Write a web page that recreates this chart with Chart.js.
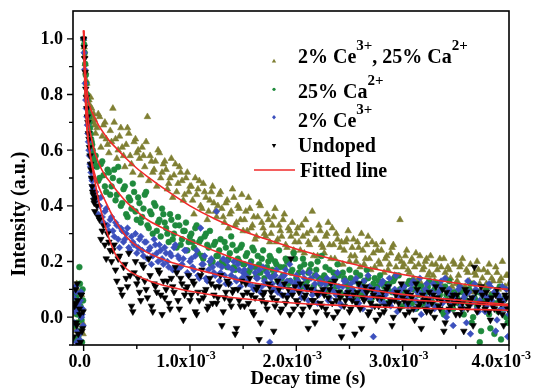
<!DOCTYPE html>
<html><head><meta charset="utf-8">
<script src="https://cdn.jsdelivr.net/npm/chart.js@4.4.0/dist/chart.umd.min.js"></script>
<style>html,body{margin:0;padding:0;background:#fff}#wrap{width:534px;height:389px}</style>
</head><body><div id="wrap"><canvas id="c" width="534" height="389"></canvas></div>
<script>
// ---- time channels (ms), set A ----
const timeMs = [
-0.08,-0.07,-0.06,-0.05,-0.04,-0.03,-0.02,-0.01,
0,0.01,0.02,0.03,0.04,0.05,0.06,0.07,0.08,0.09,0.1,
0.125,0.15,0.175,0.2,0.225,0.25,
0.275,0.3,0.325,0.35,0.375,0.4,0.425,0.45,0.475,0.5,
0.525,0.55,0.575,0.6,0.625,0.65,0.675,0.7,0.725,0.75,
0.775,0.8,0.825,0.85,0.875,0.9,0.925,0.95,0.975,1.0,
1.025,1.05,1.075,1.1,1.125,1.15,1.175,1.2,1.225,1.25,
1.275,1.3,1.325,1.35,1.375,1.4,1.425,1.45,1.475,1.5,
1.525,1.55,1.575,1.6,1.625,1.65,1.675,1.7,1.725,1.75,
1.775,1.8,1.825,1.85,1.875,1.9,1.925,1.95,1.975,2.0,
2.025,2.05,2.075,2.1,2.125,2.15,2.175,2.2,2.225,2.25,
2.275,2.3,2.325,2.35,2.375,2.4,2.425,2.45,2.475,2.5,
2.525,2.55,2.575,2.6,2.625,2.65,2.675,2.7,2.725,2.75,
2.775,2.8,2.825,2.85,2.875,2.9,2.925,2.95,2.975,3.0,
3.025,3.05,3.075,3.1,3.125,3.15,3.175,3.2,3.225,3.25,
3.275,3.3,3.325,3.35,3.375,3.4,3.425,3.45,3.475,3.5,
3.525,3.55,3.575,3.6,3.625,3.65,3.675,3.7,3.725,3.75,
3.775,3.8,3.825,3.85,3.875,3.9,3.925,3.95,3.975,4.0];

// ---- time channels (ms), set B (interleaved) ----
const timeMsB = [
-0.095,-0.085,-0.075,-0.065,-0.055,-0.045,-0.035,-0.025,-0.015,-0.005,
0.005,0.015,0.025,0.035,0.045,0.055,0.065,0.075,0.085,0.095,0.105,
0.1125,0.1375,0.1625,0.1875,0.2125,0.2375,
0.2625,0.2875,0.3125,0.3375,0.3625,0.3875,0.4125,0.4375,0.4625,0.4875,
0.5125,0.5375,0.5625,0.5875,0.6125,0.6375,0.6625,0.6875,0.7125,0.7375,
0.7625,0.7875,0.8125,0.8375,0.8625,0.8875,0.9125,0.9375,0.9625,0.9875,
1.0125,1.0375,1.0625,1.0875,1.1125,1.1375,1.1625,1.1875,1.2125,1.2375,
1.2625,1.2875,1.3125,1.3375,1.3625,1.3875,1.4125,1.4375,1.4625,1.4875,
1.5125,1.5375,1.5625,1.5875,1.6125,1.6375,1.6625,1.6875,1.7125,1.7375,
1.7625,1.7875,1.8125,1.8375,1.8625,1.8875,1.9125,1.9375,1.9625,1.9875,
2.0125,2.0375,2.0625,2.0875,2.1125,2.1375,2.1625,2.1875,2.2125,2.2375,
2.2625,2.2875,2.3125,2.3375,2.3625,2.3875,2.4125,2.4375,2.4625,2.4875,
2.5125,2.5375,2.5625,2.5875,2.6125,2.6375,2.6625,2.6875,2.7125,2.7375,
2.7625,2.7875,2.8125,2.8375,2.8625,2.8875,2.9125,2.9375,2.9625,2.9875,
3.0125,3.0375,3.0625,3.0875,3.1125,3.1375,3.1625,3.1875,3.2125,3.2375,
3.2625,3.2875,3.3125,3.3375,3.3625,3.3875,3.4125,3.4375,3.4625,3.4875,
3.5125,3.5375,3.5625,3.5875,3.6125,3.6375,3.6625,3.6875,3.7125,3.7375,
3.7625,3.7875,3.8125,3.8375,3.8625,3.8875,3.9125,3.9375,3.9625,3.9875];

// ---- measured intensities: Undoped ----
const undoped = [
0.05,-0.02,0.12,-0.06,0.03,-0.09,0.08,-0.04,
1.0,0.93,0.82,0.75,0.70,0.64,0.58,0.53,0.47,0.44,0.41,
0.40,0.35,0.31,0.26,0.30,0.24,
0.24,0.17,0.21,0.10,0.18,0.14,0.23,0.04,0.16,0.12,
0.09,0.19,0.13,0.07,0.15,0.02,0.11,0.17,0.08,0.13,
0.10,0.05,0.14,0.09,0.16,0.03,0.12,0.08,0.11,0.06,
0.13,0.02,0.09,0.15,0.07,0.10,0.04,0.12,0.08,0.05,
0.11,-0.03,0.07,0.13,0.06,0.09,-0.06,0.10,0.04,0.08,
0.12,0.05,0.08,0.01,0.10,-0.08,0.06,0.09,0.03,0.11,
0.07,0.04,0.13,0.02,0.08,0.05,0.10,0.21,0.03,0.06,
0.09,0.01,0.07,0.11,0.04,0.06,-0.02,0.08,0.05,0.10,
0.03,0.07,0.12,0.00,0.06,0.09,-0.07,0.04,0.08,0.02,
0.06,-0.06,0.09,0.03,0.07,0.11,0.01,0.05,0.08,-0.01,
0.04,0.07,0.02,0.10,0.05,-0.03,0.06,0.09,0.03,0.07,
0.01,0.05,0.08,0.03,0.12,0.04,-0.04,0.06,0.02,0.09,
0.05,0.00,0.07,0.03,0.10,-0.02,0.06,0.04,0.08,0.01,
0.06,0.03,-0.05,0.09,0.04,0.07,0.18,0.02,0.05,0.08,
0.03,0.06,-0.01,0.04,0.08,0.02,0.05,-0.03,0.07,0.04];
const undopedB = [
-0.07,0.04,0.10,-0.03,0.06,-0.10,0.01,0.08,-0.05,0.02,
0.97,0.88,0.79,0.72,0.66,0.61,0.55,0.50,0.45,0.42,0.38,
0.43,0.36,0.28,0.33,0.21,0.27,
0.20,0.26,0.13,0.22,0.08,0.19,0.11,0.15,0.02,0.20,
0.14,0.06,0.18,0.10,0.21,0.04,0.12,0.09,0.16,0.01,
0.07,0.13,0.03,0.11,0.18,0.06,0.14,-0.01,0.10,0.15,
0.08,0.12,0.01,0.06,0.17,0.09,0.03,0.14,0.05,0.11,
0.07,0.15,0.02,0.09,0.12,0.04,0.10,-0.04,0.06,0.13,
0.04,0.09,0.14,0.02,0.07,0.11,-0.02,0.08,0.05,0.12,
0.09,-0.05,0.06,0.10,0.03,0.12,0.07,0.01,0.08,0.11,
0.05,0.12,0.03,0.08,-0.04,0.10,0.06,0.02,0.09,0.04,
0.08,0.01,0.10,0.05,0.13,0.02,0.07,-0.03,0.06,0.09,
0.03,0.08,0.05,0.12,-0.04,0.06,0.09,0.02,0.10,0.04,
0.07,0.01,0.09,0.04,0.11,0.06,0.00,0.08,0.05,0.12,
0.06,0.09,0.02,0.07,-0.01,0.10,0.05,0.08,0.03,0.06,
0.02,0.08,0.11,0.04,0.06,-0.05,0.09,0.03,0.07,0.05,
0.08,0.01,0.05,0.10,0.03,0.06,-0.03,0.09,0.04,0.11,
0.05,0.09,0.02,0.07,0.03,0.10,0.06,0.01,0.08,0.03];

// ---- 2% Ce3+ ----
const ce2 = [
0.02,0.09,-0.05,0.04,-0.08,0.06,0.00,0.03,
1.0,0.89,0.78,0.72,0.66,0.60,0.55,0.52,0.49,0.46,0.44,
0.42,0.40,0.36,0.38,0.33,0.35,
0.31,0.34,0.28,0.32,0.27,0.30,0.25,0.29,0.26,0.23,
0.28,0.24,0.27,0.21,0.25,0.22,0.26,0.20,0.24,0.19,
0.23,0.18,0.22,0.25,0.17,0.21,0.19,0.24,0.16,0.20,
0.18,0.22,0.15,0.32,0.19,0.14,0.17,0.21,0.16,0.38,
0.13,0.18,0.15,0.20,0.12,0.17,0.14,0.19,0.11,0.16,
0.15,0.12,0.18,0.10,0.14,0.17,0.11,0.13,0.16,-0.09,
0.12,0.15,0.09,0.14,0.11,0.17,0.08,0.13,0.10,0.15,
0.11,0.07,0.14,0.10,0.16,0.08,0.12,0.05,0.13,0.09,
0.12,0.06,0.10,0.14,0.08,0.11,0.04,0.13,0.09,0.07,
0.10,0.13,0.06,0.11,0.03,0.09,0.15,0.07,-0.07,0.10,
0.08,0.12,0.05,0.09,0.14,0.06,0.10,0.02,0.08,0.11,
0.07,0.04,0.10,0.13,0.06,0.09,0.01,0.08,0.12,0.05,
0.09,0.03,0.07,0.11,0.05,0.14,0.02,0.08,-0.03,0.06,
0.10,0.04,0.07,-0.02,0.09,0.05,0.12,0.03,0.06,0.08,
0.02,0.07,0.11,0.04,-0.05,0.08,0.03,0.06,0.10,0.01];
const ce2B = [
0.07,-0.02,0.11,-0.09,0.03,0.05,-0.06,0.09,0.01,-0.03,
0.95,0.84,0.75,0.69,0.63,0.58,0.54,0.50,0.47,0.45,0.43,
0.45,0.37,0.43,0.34,0.39,0.31,
0.36,0.29,0.33,0.25,0.31,0.28,0.32,0.24,0.27,0.30,
0.25,0.29,0.22,0.27,0.24,0.19,0.28,0.23,0.26,0.21,
0.25,0.20,0.23,0.17,0.26,0.22,0.18,0.21,0.24,0.15,
0.21,0.17,0.24,0.14,0.19,0.22,0.13,0.20,0.18,0.15,
0.19,0.16,0.21,0.12,0.18,0.15,0.20,0.13,0.17,0.14,
0.17,0.13,0.19,0.11,0.16,0.14,0.09,0.18,0.12,0.15,
0.14,0.10,0.17,0.12,0.08,0.15,0.13,0.19,0.09,0.12,
0.13,0.09,0.16,0.11,0.06,0.14,0.10,0.15,0.08,0.12,
0.10,0.14,0.07,0.12,0.09,0.16,0.05,0.11,0.13,0.08,
0.12,0.08,0.14,0.05,0.10,0.13,0.07,0.11,0.04,0.09,
0.10,0.06,0.13,0.08,0.11,0.04,0.09,0.15,0.07,0.10,
0.11,0.05,0.08,0.12,0.03,0.09,0.14,0.06,0.10,0.04,
0.07,0.12,0.04,0.09,0.13,0.06,0.00,0.10,0.05,0.08,
0.06,0.11,0.03,0.08,0.13,-0.06,0.07,0.10,0.02,0.09,
0.08,0.04,0.12,0.06,0.09,-0.01,0.07,0.11,0.03,-0.07];

// ---- 25% Ca2+ ----
const ca25 = [
-0.03,0.07,0.01,-0.07,0.18,0.04,-0.01,0.10,
1.0,0.95,0.87,0.80,0.75,0.72,0.68,0.64,0.62,0.58,0.56,
0.54,0.50,0.56,0.47,0.53,0.44,
0.50,0.42,0.54,0.40,0.46,0.37,0.43,0.39,0.45,0.35,
0.41,0.36,0.44,0.33,0.38,0.30,0.40,0.34,0.29,0.37,
0.32,0.27,0.35,0.30,0.25,0.33,0.28,0.31,0.24,0.29,
0.27,0.32,0.23,0.28,0.21,0.30,0.25,0.19,0.26,0.22,
0.24,0.20,0.27,0.18,0.23,0.26,0.17,0.21,0.25,0.19,
0.22,0.16,0.20,0.24,0.15,0.19,0.21,0.14,0.18,0.22,
0.17,0.20,0.13,0.18,0.15,0.21,0.12,0.16,0.23,0.14,
0.16,0.11,0.19,0.13,0.17,0.10,0.15,0.20,0.12,0.14,
0.18,0.09,0.13,0.16,0.11,0.15,0.08,0.14,0.12,0.17,
0.10,0.13,0.07,0.15,0.11,0.09,0.14,0.06,0.12,0.10,
0.13,0.08,0.11,0.05,0.12,0.09,0.14,0.07,0.10,0.04,
0.09,0.12,0.06,0.10,0.03,0.08,0.11,0.05,0.09,0.13,
0.07,0.10,0.04,0.08,0.02,0.11,0.06,0.09,0.03,0.07,
0.05,0.09,0.01,0.06,0.10,-0.02,0.07,0.04,-0.09,0.08,
0.03,0.07,-0.04,0.05,0.09,0.02,-0.08,0.06,0.00,0.04];
const ca25B = [
0.03,-0.08,0.08,-0.02,0.05,-0.05,0.12,0.00,-0.09,0.06,
0.98,0.91,0.84,0.78,0.73,0.70,0.66,0.63,0.60,0.57,0.55,
0.58,0.49,0.55,0.51,0.45,0.52,
0.47,0.53,0.44,0.49,0.41,0.47,0.36,0.42,0.48,0.38,
0.43,0.34,0.39,0.45,0.32,0.37,0.41,0.31,0.35,0.39,
0.34,0.30,0.37,0.28,0.33,0.36,0.26,0.31,0.34,0.27,
0.30,0.25,0.33,0.27,0.22,0.29,0.26,0.31,0.20,0.27,
0.22,0.28,0.19,0.25,0.21,0.29,0.18,0.24,0.20,0.26,
0.19,0.23,0.17,0.25,0.18,0.22,0.16,0.24,0.17,0.20,
0.21,0.15,0.19,0.24,0.14,0.18,0.20,0.13,0.17,0.21,
0.13,0.18,0.21,0.12,0.16,0.19,0.11,0.17,0.14,0.22,
0.15,0.12,0.17,0.10,0.14,0.19,0.09,0.16,0.13,0.11,
0.14,0.09,0.16,0.12,0.08,0.13,0.17,0.10,0.07,0.14,
0.11,0.15,0.07,0.12,0.10,0.06,0.13,0.09,0.15,0.08,
0.11,0.07,0.13,0.05,0.10,0.12,0.04,0.09,0.07,0.11,
0.09,0.05,0.12,0.07,0.10,0.01,0.08,0.13,0.05,0.09,
0.07,0.11,0.03,0.08,0.05,0.12,0.00,0.06,0.09,-0.05,
0.06,0.10,0.01,0.08,-0.06,0.05,0.11,0.03,0.07,-0.02];

// ---- 2% Ce3+, 25% Ca2+ ----
const ceCa = [
0.06,-0.04,0.10,0.02,-0.08,0.04,0.08,-0.02,
1.0,0.94,0.88,0.84,0.80,0.78,0.76,0.73,0.72,0.70,0.71,
0.68,0.72,0.65,0.70,0.62,0.67,
0.75,0.64,0.60,0.68,0.58,0.62,0.66,0.55,0.63,0.59,
0.57,0.61,0.54,0.72,0.58,0.52,0.56,0.60,0.50,0.55,
0.53,0.48,0.57,0.51,0.45,0.54,0.49,0.44,0.52,0.47,
0.42,0.50,0.46,0.40,0.48,0.43,0.38,0.45,0.41,0.36,
0.44,0.39,0.34,0.42,0.37,0.46,0.33,0.40,0.35,0.31,
0.38,0.43,0.32,0.36,0.29,0.41,0.34,0.30,0.37,0.27,
0.33,0.39,0.28,0.31,0.35,0.26,0.32,0.29,0.24,0.30,
0.27,0.33,0.23,0.30,0.26,0.38,0.28,0.22,0.31,0.25,
0.29,0.34,0.21,0.26,0.30,0.19,0.27,0.24,0.28,0.20,
0.25,0.22,0.27,0.18,0.24,0.21,0.29,0.17,0.23,0.26,
0.20,0.24,0.16,0.22,0.19,0.25,0.15,0.21,0.35,0.18,
0.22,0.17,0.20,0.14,0.23,0.19,0.12,0.18,0.21,0.16,
0.19,0.13,0.17,0.21,0.11,0.16,0.18,0.14,0.20,0.12,
0.15,0.19,0.10,0.17,0.13,0.09,0.16,0.20,0.12,0.14,
0.11,0.16,0.08,0.13,0.18,0.10,0.14,0.07,0.15,0.12];
const ceCaB = [
-0.05,0.08,0.01,0.12,-0.07,0.05,-0.01,0.09,0.03,-0.06,
0.97,0.91,0.85,0.80,0.76,0.74,0.79,0.75,0.71,0.73,0.69,
0.66,0.73,0.61,0.69,0.64,0.59,
0.63,0.70,0.57,0.65,0.61,0.54,0.68,0.58,0.52,0.64,
0.60,0.51,0.58,0.63,0.49,0.56,0.53,0.47,0.59,0.52,
0.56,0.46,0.50,0.43,0.55,0.48,0.52,0.42,0.50,0.45,
0.47,0.37,0.44,0.49,0.39,0.45,0.35,0.42,0.47,0.38,
0.40,0.45,0.36,0.41,0.32,0.38,0.43,0.34,0.39,0.44,
0.35,0.31,0.39,0.33,0.28,0.36,0.40,0.32,0.29,0.35,
0.30,0.36,0.27,0.33,0.29,0.37,0.25,0.31,0.34,0.27,
0.32,0.24,0.29,0.35,0.27,0.31,0.22,0.28,0.33,0.26,
0.23,0.30,0.26,0.32,0.21,0.28,0.25,0.19,0.27,0.31,
0.22,0.28,0.20,0.25,0.30,0.19,0.26,0.21,0.27,0.18,
0.24,0.19,0.27,0.21,0.17,0.23,0.26,0.18,0.22,0.20,
0.19,0.24,0.16,0.21,0.18,0.13,0.22,0.17,0.20,0.15,
0.22,0.15,0.19,0.12,0.18,0.21,0.14,0.17,0.11,0.19,
0.13,0.18,0.21,0.11,0.16,0.19,0.12,0.15,0.17,0.10,
0.17,0.12,0.19,0.14,0.09,0.16,0.13,0.20,0.11,0.15];

// ---- fitted curves ----
const fitTimeMs = [0,0.01,0.02,0.03,0.05,0.075,0.1,0.14,0.2,0.25,0.3,0.4,0.5,0.6,0.8,1.0,1.25,1.5,1.75,2.0,2.25,2.5,2.75,3.0,3.25,3.5,3.75,4.0];
const fitCeCa   = [1.03,0.93,0.87,0.82,0.77,0.74,0.72,0.69,0.655,0.63,0.61,0.57,0.535,0.505,0.45,0.40,0.35,0.31,0.276,0.245,0.218,0.194,0.172,0.153,0.137,0.123,0.11,0.099];
const fitCa25   = [1.03,0.90,0.82,0.76,0.69,0.64,0.60,0.555,0.51,0.485,0.46,0.415,0.38,0.35,0.31,0.275,0.235,0.20,0.172,0.148,0.128,0.11,0.095,0.082,0.071,0.062,0.053,0.045];
const fitCe2    = [1.03,0.87,0.77,0.70,0.62,0.56,0.52,0.47,0.42,0.38,0.345,0.29,0.255,0.232,0.20,0.178,0.153,0.13,0.113,0.099,0.088,0.079,0.071,0.064,0.058,0.052,0.046,0.041];
const fitUndoped= [1.03,0.85,0.75,0.68,0.61,0.55,0.50,0.42,0.33,0.27,0.225,0.175,0.15,0.133,0.11,0.093,0.078,0.066,0.057,0.05,0.045,0.041,0.037,0.034,0.031,0.029,0.027,0.025];

// ---- axis ticks ----
const xTickMs = [0,1,2,3,4];
const xTickLabels = ['0.0','1.0x10','2.0x10','3.0x10','4.0x10'];
const xTickSup = ['','-3','-3','-3','-3'];
const xMinorMs = [0.5,1.5,2.5,3.5];
const yTicks = [0,0.2,0.4,0.6,0.8,1.0];
const yTickLabels = ['0.0','0.2','0.4','0.6','0.8','1.0'];
const yMinor = [-0.1,0.1,0.3,0.5,0.7,0.9];

// ---- legend text ----
const legendItems = [
  [{t:'2% Ce'},{t:'3+',s:1},{t:', 25% Ca'},{t:'2+',s:1}],
  [{t:'25% Ca'},{t:'2+',s:1}],
  [{t:'2% Ce'},{t:'3+',s:1}],
  [{t:'Undoped'}],
  [{t:'Fitted line'}]
];

const OLIVE='#7f7f33', GREEN='#1f8a3c', BLUE='#3c50bd', BLACK='#000000', RED='#f02a2a';
const FONT='"Liberation Serif","Times New Roman",serif';

function pts(ysA, ysB){
  const a=[];
  for(let i=0;i<Math.min(timeMs.length, ysA.length);i++) a.push({x:timeMs[i]/1000,y:ysA[i]});
  for(let i=0;i<Math.min(timeMsB.length, ysB.length);i++) a.push({x:timeMsB[i]/1000,y:ysB[i]});
  return a;
}
function fpts(ys){ return fitTimeMs.map((t,i)=>({x:t/1000,y:ys[i]})); }

function drawRich(ctx, parts, x, base, size, supSize, raise){
  let cx=x;
  for(const p of parts){
    ctx.font = 'bold '+(p.s?supSize:size)+'px '+FONT;
    ctx.fillText(p.t, cx, p.s? base-raise : base);
    cx += ctx.measureText(p.t).width;
  }
  return cx-x;
}
function richWidth(ctx, parts, size, supSize){
  let w=0; for(const p of parts){ ctx.font='bold '+(p.s?supSize:size)+'px '+FONT; w+=ctx.measureText(p.t).width; } return w;
}

const deco = {
  id:'deco',
  afterDraw(chart){
    const ctx=chart.ctx, a=chart.chartArea, xs=chart.scales.x, ys=chart.scales.y;
    ctx.save();
    ctx.strokeStyle='#000'; ctx.fillStyle='#000';
    ctx.lineWidth=1.6;
    ctx.strokeRect(a.left, a.top, a.right-a.left, a.bottom-a.top);
    ctx.lineWidth=1.4;
    ctx.beginPath();
    yTicks.forEach(v=>{const y=ys.getPixelForValue(v); ctx.moveTo(a.left-6,y); ctx.lineTo(a.left,y);});
    yMinor.forEach(v=>{const y=ys.getPixelForValue(v); ctx.moveTo(a.left-4,y); ctx.lineTo(a.left,y);});
    xTickMs.forEach(v=>{const x=xs.getPixelForValue(v/1000); ctx.moveTo(x,a.bottom); ctx.lineTo(x,a.bottom+6);});
    xMinorMs.forEach(v=>{const x=xs.getPixelForValue(v/1000); ctx.moveTo(x,a.bottom); ctx.lineTo(x,a.bottom+4);});
    ctx.stroke();
    ctx.font='bold 18px '+FONT; ctx.textAlign='right'; ctx.textBaseline='middle';
    yTicks.forEach((v,i)=>{ ctx.fillText(yTickLabels[i], a.left-10, ys.getPixelForValue(v)+1); });
    ctx.textAlign='left'; ctx.textBaseline='alphabetic';
    xTickMs.forEach((v,i)=>{
      const parts=[{t:xTickLabels[i]}]; if(xTickSup[i]) parts.push({t:xTickSup[i],s:1});
      const w=richWidth(ctx,parts,18,12);
      let x0=xs.getPixelForValue(v/1000)-4-w/2;
      if(x0+w>531) x0=531-w;
      drawRich(ctx,parts,x0,366.5,18,12,8);
    });
    ctx.font='bold 19px '+FONT; ctx.textAlign='center'; ctx.textBaseline='alphabetic';
    ctx.fillText('Decay time (s)', 308, 384);
    ctx.save(); ctx.translate(25,214); ctx.rotate(-Math.PI/2);
    ctx.font='bold 20px '+FONT; ctx.fillText('Intensity (a.u.)',0,0); ctx.restore();
    const mx=274, rows=[{b:63.3,m:61},{b:98,m:89.3},{b:126.5,m:117.3},{b:151.5,m:145.7},{b:176.5,m:170}];
    ctx.textAlign='left';
    legendItems.forEach((it,i)=>{ drawRich(ctx,it, i===4?300:298, rows[i].b, 20, 15, 13); });
    const m=rows.map(r=>r.m);
    ctx.fillStyle=OLIVE; ctx.beginPath(); ctx.moveTo(mx,m[0]-2.2); ctx.lineTo(mx+2.2,m[0]+1.6); ctx.lineTo(mx-2.2,m[0]+1.6); ctx.closePath(); ctx.fill();
    ctx.fillStyle=GREEN; ctx.beginPath(); ctx.arc(mx,m[1],1.6,0,Math.PI*2); ctx.fill();
    ctx.fillStyle=BLUE; ctx.beginPath(); ctx.moveTo(mx,m[2]-2.2); ctx.lineTo(mx+2,m[2]); ctx.lineTo(mx,m[2]+2.2); ctx.lineTo(mx-2,m[2]); ctx.closePath(); ctx.fill();
    ctx.fillStyle=BLACK; ctx.beginPath(); ctx.moveTo(mx,m[3]+2.2); ctx.lineTo(mx+2.2,m[3]-1.6); ctx.lineTo(mx-2.2,m[3]-1.6); ctx.closePath(); ctx.fill();
    ctx.strokeStyle=RED; ctx.lineWidth=1.6; ctx.beginPath(); ctx.moveTo(254,m[4]); ctx.lineTo(295,m[4]); ctx.stroke();
    ctx.restore();
  }
};

function scatterDS(label, ysA, ysB, color, style, r, rot, order){
  return {type:'scatter', label, data:pts(ysA, ysB), pointStyle:style, pointRadius:r, pointRotation:rot||0,
    backgroundColor:color, borderColor:color, pointBorderWidth:0.6, showLine:false, order, clip:0};
}
function fitDS(label, ys){
  return {type:'line', label, data:fpts(ys), borderColor:RED, borderWidth:1.6, pointRadius:0,
    fill:false, cubicInterpolationMode:'monotone', order:0, clip:0};
}

new Chart(document.getElementById('c'), {
  type:'scatter',
  data:{datasets:[
    scatterDS('2% Ce3+, 25% Ca2+', ceCa, ceCaB, OLIVE, 'triangle', 3.8, 0, 4),
    scatterDS('25% Ca2+', ca25, ca25B, GREEN, 'circle', 2.9, 0, 3),
    scatterDS('2% Ce3+', ce2, ce2B, BLUE, 'rectRot', 3.3, 0, 2),
    scatterDS('Undoped', undoped, undopedB, BLACK, 'triangle', 3.8, 180, 1),
    fitDS('fit1', fitCeCa), fitDS('fit2', fitCa25), fitDS('fit3', fitCe2), fitDS('fit4', fitUndoped)
  ]},
  options:{
    responsive:false, animation:false,
    layout:{padding:{left:0,right:25,top:11,bottom:0}},
    scales:{
      x:{type:'linear', min:-0.0001, max:0.004, grid:{display:false}, border:{display:false}, ticks:{display:false}, afterFit(s){s.height=44;}},
      y:{type:'linear', min:-0.1, max:1.1, grid:{display:false}, border:{display:false}, ticks:{display:false}, afterFit(s){s.width=73;}}
    },
    plugins:{legend:{display:false}, tooltip:{enabled:false}}
  },
  plugins:[deco]
});
</script></body></html>
